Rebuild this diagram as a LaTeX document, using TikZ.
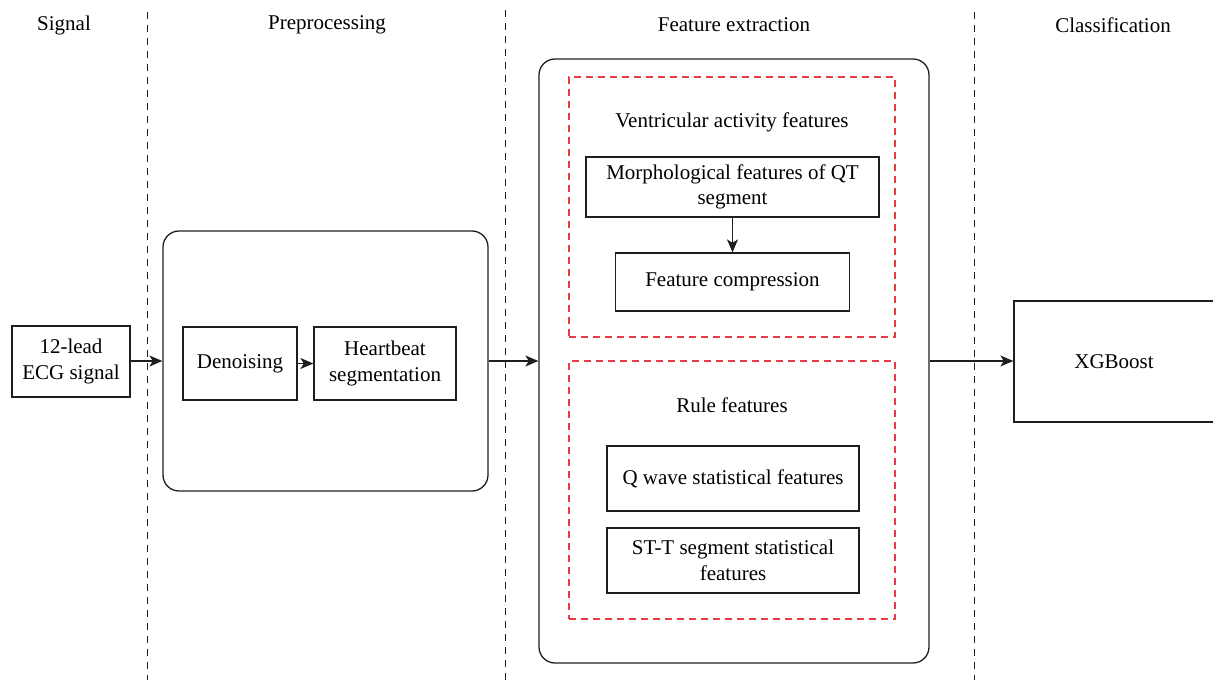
\documentclass[tikz,border=0pt]{standalone}
\usepackage{fontspec}
\setmainfont{Liberation Serif}
\usetikzlibrary{arrows.meta}
\definecolor{redd}{RGB}{232,60,70}
\definecolor{ink}{RGB}{30,30,30}
\begin{document}
\begin{tikzpicture}[x=1pt,y=-1pt,
  every node/.style={font=\fontsize{21}{25.5}\selectfont, inner sep=0pt, align=center},
  box/.style={draw=ink, line width=1.3pt, rectangle},
  rbox/.style={draw=ink, line width=1.3pt, rectangle, rounded corners=16pt},
  redbox/.style={draw=redd, line width=1.4pt, dash pattern=on 7pt off 5pt},
  sep/.style={draw=ink, line width=1pt, dash pattern=on 7pt off 6pt},
  arr/.style={draw=ink, line width=1.2pt, -{Stealth[length=13pt,width=11pt,inset=3.5pt]}},
  hdr/.style={anchor=center}]
\useasboundingbox (0,0) rectangle (1213,680);
% headers
\node[hdr] (h1) at (64,25) {Signal};
\node[hdr] (h2) at (327,25) {Preprocessing};
\node[hdr] (h3) at (734,25) {Feature extraction};
\node[hdr] (h4) at (1113,25) {Classification};
% separators
\coordinate (s1t) at (147,12); \coordinate (s1b) at (147,680);
\coordinate (s2t) at (505,10); \coordinate (s2b) at (505,680);
\coordinate (s3t) at (974,12); \coordinate (s3b) at (974,680);
\draw[sep] (s1t) -- (s1b);
\draw[sep] (s2t) -- (s2b);
\draw[sep] (s3t) -- (s3b);
% signal
\node[box, minimum width=118pt, minimum height=71pt] (sig) at (71,361.5) {12-lead\\ECG signal};
% preprocessing
\node[rbox, minimum width=325pt, minimum height=260pt] (prep) at (325.5,361) {};
\node[box, minimum width=114pt, minimum height=73pt] (den) at (240,363.5) {Denoising};
\node[box, minimum width=142pt, minimum height=73pt] (hb) at (385,363.5) {Heartbeat\\segmentation};
% feature extraction
\node[rbox, minimum width=390pt, minimum height=604pt] (feat) at (734,361) {};
\node[redbox, minimum width=326pt, minimum height=260pt] (red1) at (732,207) {};
\node (vent) at (732,122) {Ventricular activity features};
\node[box, minimum width=293pt, minimum height=60pt] (morph) at (732.5,187) {Morphological features of QT\\segment};
\node[box, minimum width=234pt, minimum height=58pt] (comp) at (732.5,282) {Feature compression};
\node[redbox, minimum width=326pt, minimum height=258pt] (red2) at (732,490) {};
\node (rule) at (732,405) {Rule features};
\node[box, minimum width=252pt, minimum height=65pt] (q) at (733,478.5) {Q wave statistical features};
\node[box, minimum width=252pt, minimum height=65pt] (stt) at (733,560.5) {ST-T segment statistical\\features};
% classification
\node[box, minimum width=212pt, minimum height=121pt] (xgb) at (1120,361.5) {\hspace*{-12pt}XGBoost};
% connectors
\draw[arr] (sig.east |- 0,361) -- (prep.west |- 0,361);
\draw[arr] (den.east) -- (hb.west);
\draw[arr] (prep.east) -- (feat.west);
\draw[arr] (morph.south) -- (comp.north);
\draw[arr] (feat.east) -- (xgb.west |- feat.east);
\end{tikzpicture}
\end{document}
